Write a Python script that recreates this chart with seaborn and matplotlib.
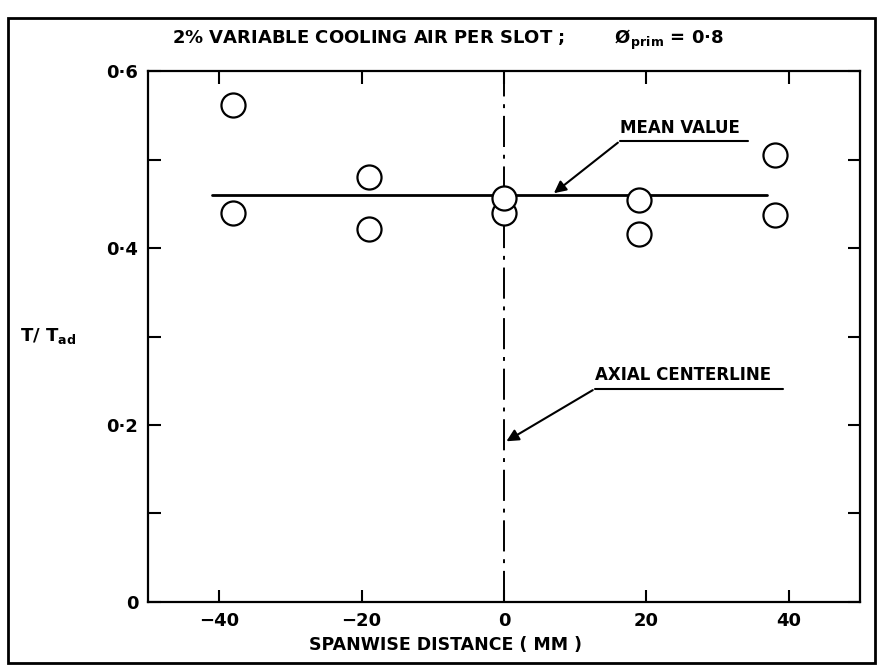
import numpy as np
import pandas as pd
import matplotlib
matplotlib.use('Agg')
import matplotlib.pyplot as plt
import seaborn as sns
from matplotlib.ticker import FixedLocator, FuncFormatter
from matplotlib.patches import Rectangle

# spanwise position (mm) and measured T/Tad, two readings per station
x_pos = [-38, -38, -19, -19, 0, 0, 19, 19, 38, 38]
t_ratio = [0.440, 0.562, 0.421, 0.480, 0.440, 0.457, 0.416, 0.454, 0.437, 0.505]
mean_value = 0.46
mean_span = [-41, 37]
x_ticks = [-40, -20, 0, 20, 40]
y_ticks = [0, 0.2, 0.4, 0.6]
y_minor = [0.1, 0.3, 0.5]

df = pd.DataFrame({'x': x_pos, 't': t_ratio})

sns.set_style('white')
plt.rcParams['font.family'] = ['DejaVu Sans']
plt.rcParams['font.weight'] = 'bold'
plt.rcParams['mathtext.default'] = 'bf'
plt.rcParams['text.color'] = 'black'

fig = plt.figure(figsize=(8.85, 6.72), dpi=100)
ax = fig.add_axes([0.1672, 0.1042, 0.8046, 0.7901])

# mean value line and axial centerline
ax.plot(mean_span, [mean_value, mean_value], color='black', lw=2, zorder=2)
ax.axvline(0, color='black', lw=1.4, dashes=(16, 4, 2, 4), zorder=1)

sns.scatterplot(data=df, x='x', y='t', ax=ax, s=300, facecolor='white',
                edgecolor='black', linewidth=1.6, zorder=3)

ax.set_xlim(-50, 50)
ax.set_ylim(0, 0.6)
ax.xaxis.set_major_locator(FixedLocator(x_ticks))
ax.yaxis.set_major_locator(FixedLocator(y_ticks))
ax.yaxis.set_minor_locator(FixedLocator(y_minor))
ax.yaxis.set_major_formatter(FuncFormatter(
    lambda v, p: '0' if v == 0 else f'{v:.1f}'.replace('.', '\u00b7')))
ax.xaxis.set_major_formatter(FuncFormatter(
    lambda v, p: f'{v:.0f}'.replace('-', '\u2212')))
ax.tick_params(which='both', direction='in', length=9, width=1.5, colors='black',
               bottom=True, left=True, top=True, right=True, labelsize=13, pad=7)
for s in ax.spines.values():
    s.set_linewidth(1.6)
    s.set_color('black')
ax.set_xlabel('')
ax.set_ylabel('')

# annotations with underlined labels
ax.annotate('', xy=(6.7, 0.46), xytext=(16.3, 0.521),
            arrowprops=dict(arrowstyle='-|>', color='black', lw=1.5, mutation_scale=18))
ax.plot([16.3, 34.3], [0.521, 0.521], color='black', lw=1.5)
ax.text(16.3, 0.526, 'MEAN VALUE', ha='left', va='bottom', fontsize=12)

ax.annotate('', xy=(0, 0.18), xytext=(12.8, 0.241),
            arrowprops=dict(arrowstyle='-|>', color='black', lw=1.5, mutation_scale=18))
ax.plot([12.8, 39.2], [0.241, 0.241], color='black', lw=1.5)
ax.text(12.8, 0.246, 'AXIAL CENTERLINE', ha='left', va='bottom', fontsize=12)

fig.text(0.194, 0.94, '2% VARIABLE COOLING AIR PER SLOT ;        \u00d8$_{\\mathrm{prim}}$ = 0\u00b78',
         ha='left', va='center', fontsize=13)
fig.text(0.503, 0.04, 'SPANWISE DISTANCE ( MM )', ha='center', va='center', fontsize=12.5)
fig.text(0.023, 0.5, 'T/ T$_{\\mathrm{ad}}$', ha='left', va='center', fontsize=13)

# outer frame
fig.patches.append(Rectangle((0.009, 0.013), 0.98, 0.96, transform=fig.transFigure,
                             fill=False, lw=2, color='black'))

fig.savefig('out.png', dpi=100)
